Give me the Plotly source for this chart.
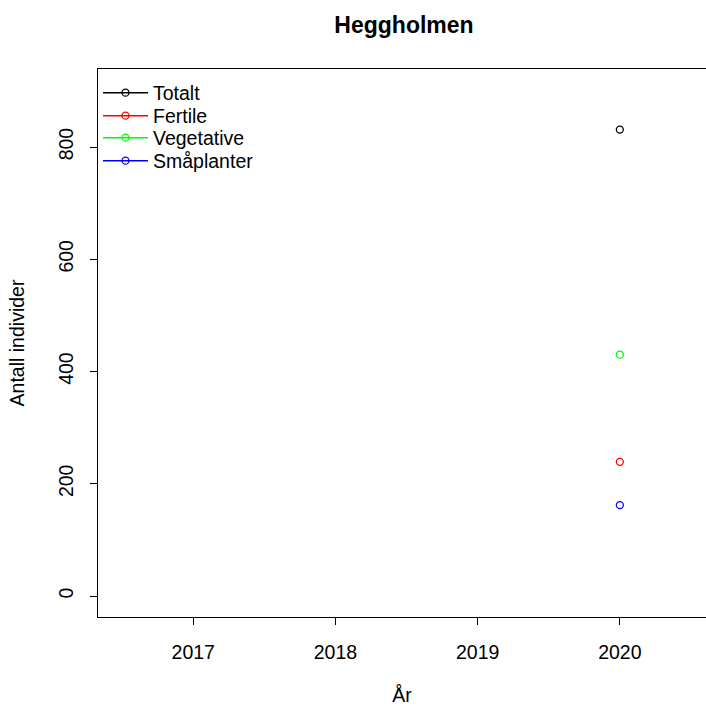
import plotly.graph_objects as go

years = [2017, 2018, 2019, 2020]
totalt = [None, None, None, 831]
fertile = [None, None, None, 239]
vegetative = [None, None, None, 430]
smaplanter = [None, None, None, 162]

series = [
    ("Totalt", totalt, "black"),
    ("Fertile", fertile, "red"),
    ("Vegetative", vegetative, "#00ff00"),
    ("Småplanter", smaplanter, "blue"),
]
legend_rows = [93, 116, 138, 161]  # pixel rows of legend entries

M_L, M_R, M_T, M_B = 98, 0, 69, 89
W = H = 706
plot_h = H - M_T - M_B

fig = go.Figure()
font = "Liberation Sans, Arial, sans-serif"
legend_ids = ["legend", "legend2", "legend3", "legend4"]
for (name, vals, col), lid in zip(series, legend_ids):
    fig.add_trace(go.Scatter(
        x=years, y=vals, name=name, mode="lines+markers", legend=lid,
        line=dict(color=col, width=1.5),
        marker=dict(symbol="circle-open", size=7, color=col, line=dict(width=1.3, color=col)),
    ))

legend_layout = {}
for lid, row in zip(legend_ids, legend_rows):
    legend_layout[lid] = dict(x=0, y=1 - (row - M_T) / plot_h,
                              xanchor="left", yanchor="middle", bgcolor="rgba(0,0,0,0)",
                              font=dict(size=19.5, family=font), itemwidth=45)

fig.update_layout(
    width=W, height=H,
    margin=dict(l=M_L, r=M_R, t=M_T, b=M_B),
    paper_bgcolor="white", plot_bgcolor="white",
    font=dict(family=font, size=19.5, color="black"),
    title=dict(text="<b>Heggholmen</b>", x=404/706, xanchor="center", y=1-25/706, yanchor="middle",
               font=dict(size=23, family=font)),
    showlegend=True,
    xaxis=dict(range=[2016.33, 2020.606], tickmode="array", tickvals=years,
               ticktext=[str(y) for y in years], showgrid=False, zeroline=False,
               showline=True, mirror=True, linecolor="black", linewidth=1,
               ticks="outside", ticklen=7, tickcolor="black", ticklabelstandoff=11,
               automargin=False,
               title=dict(text="År", standoff=35, font=dict(size=19.5))),
    yaxis=dict(range=[-37.4, 939], tickvals=[0, 200, 400, 600, 800], showgrid=False,
               zeroline=False, showline=True, linecolor="black", linewidth=1,
               ticks="outside", ticklen=7, tickcolor="black", tickangle=-90,
               ticklabelstandoff=9, automargin=False,
               title=dict(text="Antall individer", standoff=25, font=dict(size=19.5))),
    **legend_layout,
)

fig.write_html("out.html")
